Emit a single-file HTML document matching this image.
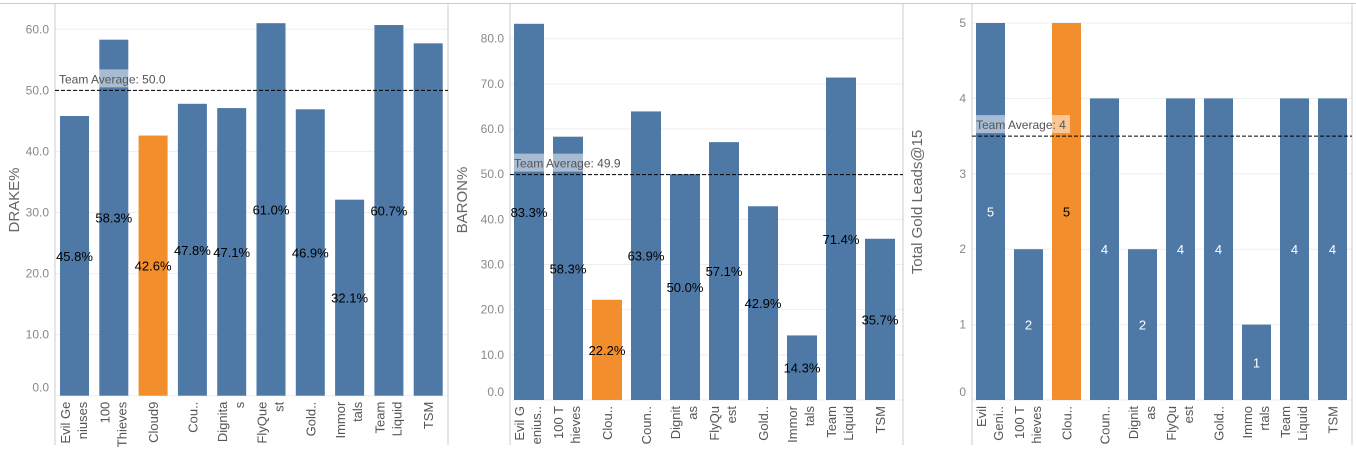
<!DOCTYPE html>
<html><head><meta charset="utf-8"><style>
body{margin:0;background:#fff;}
svg{display:block;font-family:"Liberation Sans",sans-serif;}
</style></head><body>
<svg id="c" width="1356" height="451"></svg>
<script>
const teams1 = [["Evil Ge","niuses"],["100","Thieves"],["Cloud9"],["Cou.."],["Dignita","s"],["FlyQue","st"],["Gold.."],["Immor","tals"],["Team","Liquid"],["TSM"]];
const teams2 = [["Evil G","enius.."],["100 T","hieves"],["Clou.."],["Coun.."],["Dignit","as"],["FlyQu","est"],["Gold.."],["Immor","tals"],["Team","Liquid"],["TSM"]];
const teams3 = [["Evil","Geni.."],["100 T","hieves"],["Clou.."],["Coun.."],["Dignit","as"],["FlyQu","est"],["Gold.."],["Immo","rtals"],["Team","Liquid"],["TSM"]];
const drakeValues = [45.8,58.3,42.6,47.8,47.1,61.0,46.9,32.1,60.7,57.7];
const drakeLabels = ["45.8%","58.3%","42.6%","47.8%","47.1%","61.0%","46.9%","32.1%","60.7%",""];
const baronValues = [83.3,58.3,22.2,63.9,50.0,57.1,42.9,14.3,71.4,35.7];
const baronLabels = ["83.3%","58.3%","22.2%","63.9%","50.0%","57.1%","42.9%","14.3%","71.4%","35.7%"];
const goldValues = [5,2,5,4,2,4,4,1,4,4];
const goldLabels = ["5","2","5","4","2","4","4","1","4","4"];
const drakeTicks = [0,10,20,30,40,50,60];
const baronTicks = [0,10,20,30,40,50,60,70,80];
const goldTicks = [0,1,2,3,4,5];
const averages = [50.0,49.9,3.5];
const averageLabels = ["Team Average: 50.0","Team Average: 49.9","Team Average: 4"];
const highlight = 2;

const NS="http://www.w3.org/2000/svg";
const svg=document.getElementById('c');
function mk(tag,attrs,parent){const e=document.createElementNS(NS,tag);for(const k in attrs)e.setAttribute(k,attrs[k]);(parent||svg).appendChild(e);return e;}

const topBorder=mk('line',{x1:0,y1:3.5,x2:1356,y2:3.5,stroke:'#ccc'});



function panel(o){
  const g=mk('g',{});
  
  
  const y=v=>o.y0-v*(o.y0-o.yTop)/o.vTop;
  o.ticks.forEach(t=>{
    const gl=mk('line',{x1:o.ax,x2:o.right,y1:y(t),y2:y(t),stroke:'#eee'},g);
    
    
    const tl=mk('text',{x:o.ax-6,y:y(t)+(t===0?-4:4),'text-anchor':'end','font-size':12,fill:'#888'},g);
    tl.textContent=o.fmt(t);
    
    
  });
  const axl=mk('line',{x1:o.ax,x2:o.ax,y1:4,y2:445,stroke:'#ccc'},g);
  
  
  const rl=mk('line',{x1:o.right,x2:o.right,y1:4,y2:445,stroke:'#ccc'},g);
  
  
  const tt=mk('text',{x:0,y:0,transform:`translate(${o.titleX},${o.titleY}) rotate(-90)`,'text-anchor':'middle','font-size':15,fill:'#666'},g);
  tt.textContent=o.title;
  
  
  o.values.forEach((v,i)=>{
    const x=o.x0+i*o.step;
    const r=mk('rect',{x:x,y:y(v),width:o.bw,height:o.y0-y(v),fill:i===highlight?'#f28e2b':'#4e79a7'},g);
    
    
  });
  const ay=y(o.avg);
  const lb=mk('rect',{x:o.ax+3,y:ay-21,width:o.labW,height:18,fill:'rgba(255,255,255,0.5)'},g);
  
  
  const at=mk('text',{x:o.ax+4,y:ay-7,'font-size':12,fill:'#555'},g);
  at.textContent=o.avgLabel;
  
  
  const al=mk('line',{x1:o.ax,x2:o.right,y1:ay,y2:ay,stroke:'#000','stroke-dasharray':'4,2'},g);
  
  
  o.values.forEach((v,i)=>{
    const x=o.x0+i*o.step;
    const vl=mk('text',{x:x+o.bw/2,y:(y(v)+o.y0)/2+5,'text-anchor':'middle','font-size':13,fill:o.white&&i!==highlight?'#fff':'#000'},g);
    vl.textContent=o.labels[i];
    
    
    const lines=o.teams[i];
    lines.forEach((s,j)=>{
      const lx=lines.length===1?x+o.bw/2+5:x+10+j*17;
      const t=mk('text',{x:0,y:0,transform:`translate(${lx},${o.y0+6}) rotate(-90)`,'text-anchor':'end','font-size':13,fill:'#555'},g);
      t.textContent=s;
      
      
    });
  });
}
panel({name:'drake-chart',ax:55,right:448,x0:60,step:39.3,bw:29,y0:395.7,yTop:29.3,vTop:60,ticks:drakeTicks,fmt:t=>t.toFixed(1),values:drakeValues,labels:drakeLabels,teams:teams1,avg:averages[0],avgLabel:averageLabels[0],labW:112,title:'DRAKE%',titleX:19,titleY:200});
panel({name:'baron-chart',ax:510,right:903,x0:514,step:39,bw:30,y0:400,yTop:38.7,vTop:80,ticks:baronTicks,fmt:t=>t.toFixed(1),values:baronValues,labels:baronLabels,teams:teams2,avg:averages[1],avgLabel:averageLabels[1],labW:74,title:'BARON%',titleX:467,titleY:200});
panel({name:'gold-leads-chart',ax:972,right:1352,x0:976,step:38,bw:29,y0:400,yTop:23,vTop:5,ticks:goldTicks,fmt:t=>String(t),values:goldValues,labels:goldLabels,teams:teams3,avg:averages[2],avgLabel:averageLabels[2],labW:95,title:'Total Gold Leads@15',titleX:922,titleY:202,white:true});
</script>
</body></html>
